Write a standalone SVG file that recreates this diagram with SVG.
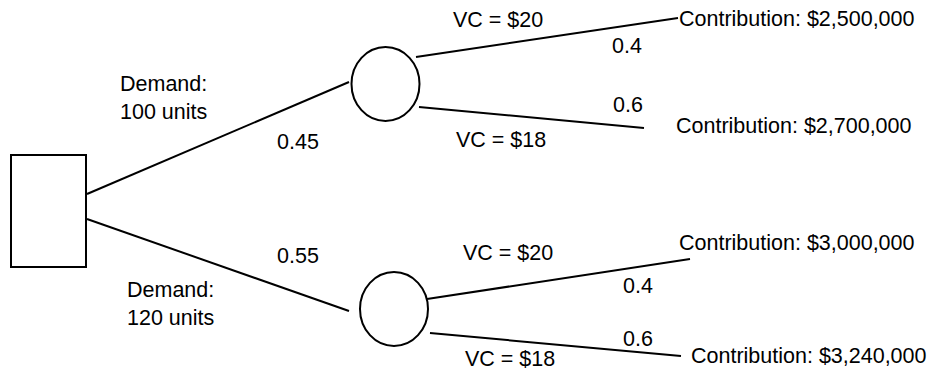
<svg xmlns="http://www.w3.org/2000/svg" width="937" height="376" viewBox="0 0 937 376">
<style>
.s{fill:#fff;stroke:#000;stroke-width:2}
.c line{stroke:#000;stroke-width:2}
text{font-family:"Liberation Sans",Arial,sans-serif;font-size:21.5px;fill:#000}
</style>
<rect width="937" height="376" fill="#fff"/>
<g class="c" id="connectors">
<line x1="87" y1="194" x2="349" y2="82"/>
<line x1="87" y1="219" x2="349" y2="311"/>
<line x1="416" y1="57" x2="678" y2="18"/>
<line x1="419" y1="107" x2="644" y2="128"/>
<line x1="427" y1="299" x2="690" y2="259"/>
<line x1="430" y1="333" x2="681" y2="356"/>
</g>
<g id="decision"><rect class="s" x="11" y="155" width="75" height="112"/></g>
<g id="chance1"><ellipse class="s" cx="385.5" cy="84" rx="34" ry="37"/></g>
<g id="chance2"><ellipse class="s" cx="394" cy="309" rx="34" ry="37"/></g>
<g id="labels">
<text x="120" y="91">Demand:</text>
<text x="120" y="119">100 units</text>
<text x="277" y="149">0.45</text>
<text x="277" y="263">0.55</text>
<text x="127" y="297">Demand:</text>
<text x="127" y="325">120 units</text>
<text x="453" y="27">VC = $20</text>
<text x="456" y="147">VC = $18</text>
<text x="463" y="260">VC = $20</text>
<text x="465" y="366">VC = $18</text>
<text x="612" y="53">0.4</text>
<text x="613" y="112">0.6</text>
<text x="623" y="293">0.4</text>
<text x="623" y="346">0.6</text>
<text x="679" y="26">Contribution: $2,500,000</text>
<text x="676" y="133">Contribution: $2,700,000</text>
<text x="679" y="250">Contribution: $3,000,000</text>
<text x="691" y="363">Contribution: $3,240,000</text>
</g>
</svg>
